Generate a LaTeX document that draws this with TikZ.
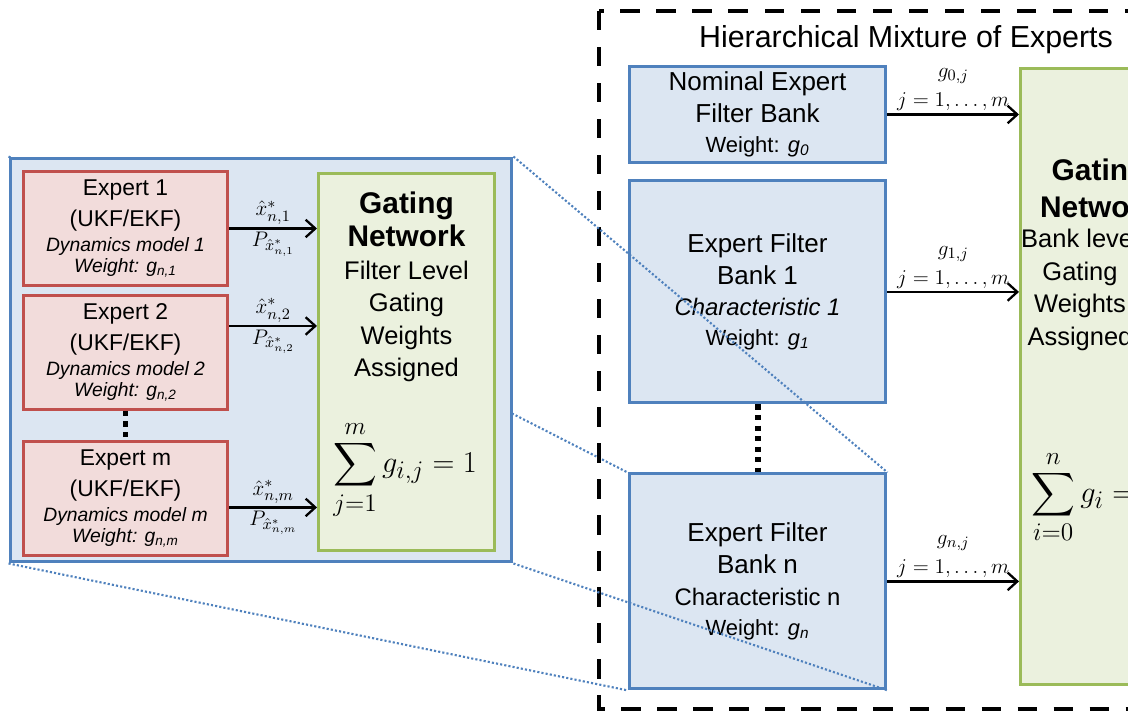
\documentclass[tikz,border=0pt]{standalone}
\usepackage{amsmath}
\usepackage{fontspec}
\setmainfont{Liberation Sans}
\usetikzlibrary{positioning,arrows.meta,calc,backgrounds}
\definecolor{hmeBlue}{RGB}{79,129,189}
\definecolor{hmeBlueFill}{RGB}{220,230,242}
\definecolor{hmeRed}{RGB}{192,80,77}
\definecolor{hmeRedFill}{RGB}{242,220,219}
\definecolor{hmeGreen}{RGB}{155,187,89}
\definecolor{hmeGreenFill}{RGB}{235,241,222}
\newcommand{\fsz}[2]{\fontsize{#1}{#2}\selectfont}
\tikzset{
    base/.style={align=center, inner sep=0pt},
    panel/.style={draw=hmeBlue, fill=hmeBlueFill, line width=1.7pt,
                  minimum width=10.04cm, minimum height=8.08cm},
    expert/.style={base, draw=hmeRed, fill=hmeRedFill, line width=1.7pt,
                   minimum width=4.1cm, minimum height=2.28cm, font=\fsz{13}{14.6}},
    bank/.style={base, draw=hmeBlue, fill=hmeBlueFill, line width=1.7pt,
                 minimum width=5.14cm, font=\fsz{14.8}{18}},
    gate/.style={draw=hmeGreen, fill=hmeGreenFill, line width=1.7pt},
    gatetext/.style={base, font=\fsz{14.5}{18.5}},
    sumtext/.style={inner sep=0pt, font=\fsz{19}{23}},
    lbl/.style={font=\fsz{12.5}{15}, inner sep=1.5pt, align=center},
    flow/.style={-{Straight Barb[length=5.5pt,width=10pt]}, line width=1.3pt},
    lens/.style={draw=hmeBlue, line width=1.2pt, dash pattern=on 1.2pt off 1.2pt},
    gapdots/.style={line width=3.4pt, dash pattern=on 3pt off 3pt},
    frame/.style={line width=2.8pt, dash pattern=on 11pt off 9.5pt}
}
\begin{document}
\begin{tikzpicture}[x=0.02cm, y=-0.02cm]
  \useasboundingbox (0,0) rectangle (1128,713);
  \clip (0,0) rectangle (1128,713);

  % Hierarchical mixture (right)
  \draw[frame] (599,11) rectangle (1200,709);
  \node[font=\fsz{17.3}{20}] (title) at (906,40) {Hierarchical Mixture of Experts};

  \node[bank, minimum height=1.94cm] (nominal) at (757.5,114.5)
    {Nominal Expert\\Filter Bank\\[-1pt]{\fsz{12.5}{14}Weight: \textit{g}\textsubscript{\textit{0}}}};
  \node[bank, minimum height=4.44cm, below=0.3cm of nominal] (bank1)
    {Expert Filter\\Bank 1\\{\fsz{13.6}{16}\itshape Characteristic 1}\\[-1pt]{\fsz{12.5}{14}Weight: \textit{g}\textsubscript{\textit{1}}}};
  \node[bank, minimum height=4.3cm, below=1.36cm of bank1] (bankn)
    {Expert Filter\\Bank n\\{\fsz{13.6}{16}Characteristic n}\\[-1pt]{\fsz{12.5}{14}Weight: \textit{g}\textsubscript{\textit{n}}}};
  \draw[gapdots] (bank1.south) -- (bankn.north);

  \node[gate, minimum width=3.24cm, minimum height=12.32cm, anchor=north west] (gateR) at (1019,67) {};
  \node[base, font=\fsz{17}{21}\bfseries] (gtRtop) at (1099,188) {Gating\\Network};
  \node[gatetext] (gtRmid) at (1080,290) {Bank level\\Gating\\Weights\\Assigned};
  \node[sumtext, anchor=west] (sumR) at (1031,497) {$\displaystyle\sum_{i=0}^{n} g_i = 1$};

  \draw[flow] (nominal.east) -- node[lbl, above] {$g_{0,j}$\\[1.5pt]$j = 1, \ldots, m$} (nominal.east -| gateR.west);
  \draw[flow] (bank1.east) -- node[lbl, above] {$g_{1,j}$\\[1.5pt]$j = 1, \ldots, m$} (bank1.east -| gateR.west);
  \draw[flow] (bankn.east) -- node[lbl, above] {$g_{n,j}$\\[1.5pt]$j = 1, \ldots, m$} (bankn.east -| gateR.west);

  % Filter level (left)
  \node[panel] (panel) at (261,360) {};
  \node[expert] (e1) at (125.5,228.5)
    {Expert 1\\[3pt](UKF/EKF)\\[-0.5pt]{\fsz{11}{13}\itshape Dynamics model 1}\\[-2.5pt]{\fsz{11}{13}\itshape Weight: g\textsubscript{n,1}}};
  \node[expert, below=0.14cm of e1] (e2)
    {Expert 2\\[3pt](UKF/EKF)\\[-0.5pt]{\fsz{11}{13}\itshape Dynamics model 2}\\[-2.5pt]{\fsz{11}{13}\itshape Weight: g\textsubscript{n,2}}};
  \node[expert, below=0.58cm of e2] (em)
    {Expert m\\[3pt](UKF/EKF)\\[-0.5pt]{\fsz{11}{13}\itshape Dynamics model m}\\[-2.5pt]{\fsz{11}{13}\itshape Weight: g\textsubscript{n,m}}};
  \draw[gapdots] (e2.south) -- (em.north);

  \node[gate, minimum width=3.52cm, minimum height=7.54cm, anchor=north west] (gateL) at (317,172) {};
  \node[gatetext, below=0.4cm of gateL.north] (gtL)
    {{\fsz{17}{21}\bfseries Gating}\\{\fsz{17}{21}\bfseries Network}\\Filter Level\\Gating\\Weights\\Assigned};
  \node[sumtext] (sumL) at (405,470) {$\displaystyle\sum_{j=1}^{m} g_{i,j} = 1$};

  \draw[flow] (e1.east) -- node[lbl, above] {$\hat{x}^*_{n,1}$} node[lbl, below] {$P_{\hat{x}^*_{n,1}}$} (e1.east -| gateL.west);
  \draw[flow] ($(e2.east)+(0,-26.5)$) -- node[lbl, above] {$\hat{x}^*_{n,2}$} node[lbl, below] {$P_{\hat{x}^*_{n,2}}$} ($(e2.east -| gateL.west)+(0,-26.5)$);
  \draw[flow] ($(em.east)+(0,9)$) -- node[lbl, above] {$\hat{x}^*_{n,m}$} node[lbl, below] {$P_{\hat{x}^*_{n,m}}$} ($(em.east -| gateL.west)+(0,9)$);

  % zoom lines
  \begin{scope}[on background layer]
    \draw[lens] (panel.north west) -- (bankn.north west);
  \end{scope}
  \draw[lens] (panel.north east) -- (bankn.north east);
  \draw[lens] (panel.south west) -- (bankn.south west);
  \draw[lens] (panel.south east) -- (bankn.south east);
\end{tikzpicture}
\end{document}
